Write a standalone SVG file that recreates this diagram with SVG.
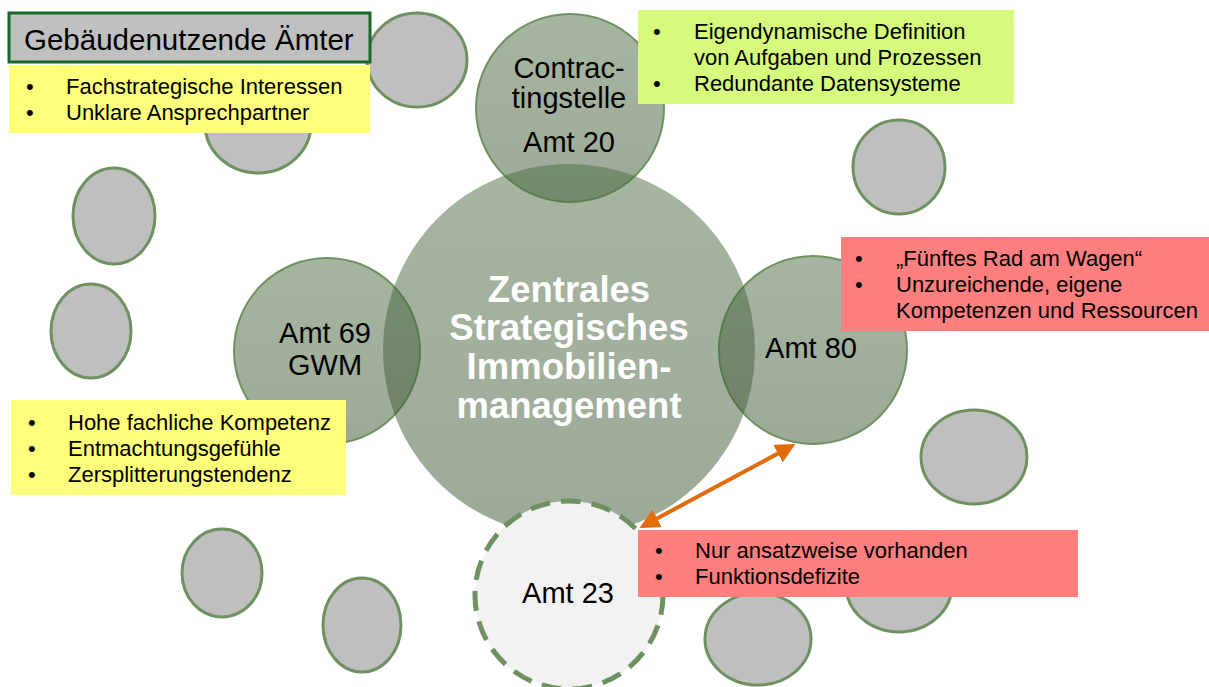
<svg xmlns="http://www.w3.org/2000/svg" width="1209" height="687" viewBox="0 0 1209 687">
  <style>
    text { font-family: "Liberation Sans", Arial, sans-serif; fill: #000; }
    .other { fill: #bfbfbf; stroke: #6f9162; stroke-width: 3; }
    .amt { fill: url(#amtFill); stroke: #6f9162; stroke-width: 2; }
    .amtLabel { font-size: 29px; text-anchor: middle; }
    .core { font-size: 36.5px; font-weight: bold; fill: #fff; text-anchor: middle; }
    .note { font-size: 22px; }
    .yellow { fill: #ffff7b; }
    .lime { fill: #d6fa7c; }
    .red { fill: #ff7f7f; }
  </style>
  <defs>
    <linearGradient id="amtFill" x1="0" y1="0" x2="0" y2="1">
      <stop offset="0" stop-color="#4d6c41" stop-opacity="0.5"/>
      <stop offset="1" stop-color="#3a5431" stop-opacity="0.5"/>
    </linearGradient>
    <marker id="head" viewBox="0 0 10 10" refX="8" refY="5" markerWidth="5" markerHeight="5" orient="auto-start-reverse">
      <path d="M0,0 L10,5 L0,10 z" fill="#e36c0a"/>
    </marker>
  </defs>

  <!-- surrounding offices (unnamed) -->
  <g id="offices">
    <ellipse class="other" cx="417" cy="60" rx="50" ry="47"/>
    <ellipse class="other" cx="258" cy="124" rx="53" ry="49"/>
    <ellipse class="other" cx="114" cy="216" rx="41" ry="48"/>
    <ellipse class="other" cx="91" cy="331" rx="40" ry="47"/>
    <ellipse class="other" cx="222" cy="573" rx="40" ry="44"/>
    <ellipse class="other" cx="362" cy="625" rx="39" ry="47"/>
    <ellipse class="other" cx="899" cy="167" rx="46" ry="47"/>
    <ellipse class="other" cx="974" cy="457" rx="53" ry="47"/>
    <ellipse class="other" cx="899" cy="585" rx="53" ry="47"/>
    <ellipse class="other" cx="758" cy="639" rx="53" ry="46"/>
  </g>

  <!-- Contractingstelle Amt 20 -->
  <g id="amt20">
    <circle class="amt" cx="570" cy="108" r="94"/>
    <text class="amtLabel" x="569" y="78">Contrac-</text>
    <text class="amtLabel" x="569" y="108">tingstelle</text>
    <text class="amtLabel" x="569" y="152">Amt 20</text>
  </g>

  <!-- Amt 69 GWM -->
  <g id="amt69">
    <circle class="amt" cx="327" cy="351" r="93"/>
    <text class="amtLabel" x="325" y="343">Amt 69</text>
    <text class="amtLabel" x="325" y="375">GWM</text>
  </g>

  <!-- Amt 80 -->
  <g id="amt80">
    <circle class="amt" cx="813" cy="350" r="94"/>
    <text class="amtLabel" x="811" y="358">Amt 80</text>
  </g>

  <!-- central strategic real estate management -->
  <g id="zsim">
    <circle cx="569" cy="350" r="186" fill="url(#amtFill)"/>
    <text class="core" x="569" y="302">Zentrales</text>
    <text class="core" x="569" y="340">Strategisches</text>
    <text class="core" x="569" y="379">Immobilien-</text>
    <text class="core" x="569" y="418">management</text>
  </g>

  <!-- Amt 23 (only partly established) -->
  <g id="amt23">
    <circle cx="569" cy="595" r="94" fill="#f2f2f2" stroke="#6f9162" stroke-width="5" stroke-dasharray="20 11"/>
    <text class="amtLabel" x="568" y="603">Amt 23</text>
  </g>

  <!-- header -->
  <g id="header">
    <rect x="9" y="13" width="361" height="49" fill="#c0c0c0" stroke="#16692a" stroke-width="3"/>
    <text x="24" y="50" font-size="29.5">Gebäudenutzende Ämter</text>
  </g>

  <!-- annotation boxes -->
  <g id="note-users">
    <rect class="yellow" x="9" y="65" width="361" height="68"/>
    <text class="note" x="26" y="94">•</text>
    <text class="note" x="66" y="94">Fachstrategische Interessen</text>
    <text class="note" x="26" y="120">•</text>
    <text class="note" x="66" y="120">Unklare Ansprechpartner</text>
  </g>

  <g id="note-amt20">
    <rect class="lime" x="638" y="10" width="376" height="94"/>
    <text class="note" x="653" y="39">•</text>
    <text class="note" x="694" y="39">Eigendynamische Definition</text>
    <text class="note" x="694" y="65">von Aufgaben und Prozessen</text>
    <text class="note" x="653" y="91">•</text>
    <text class="note" x="694" y="91">Redundante Datensysteme</text>
  </g>

  <g id="note-amt80">
    <rect class="red" x="841" y="237" width="368" height="94"/>
    <text class="note" x="855" y="266">•</text>
    <text class="note" x="896" y="266">„Fünftes Rad am Wagen“</text>
    <text class="note" x="855" y="292">•</text>
    <text class="note" x="896" y="292">Unzureichende, eigene</text>
    <text class="note" x="896" y="318">Kompetenzen und Ressourcen</text>
  </g>

  <g id="note-amt69">
    <rect class="yellow" x="11" y="400" width="335" height="95"/>
    <text class="note" x="28" y="430">•</text>
    <text class="note" x="68" y="430">Hohe fachliche Kompetenz</text>
    <text class="note" x="28" y="456">•</text>
    <text class="note" x="68" y="456">Entmachtungsgefühle</text>
    <text class="note" x="28" y="482">•</text>
    <text class="note" x="68" y="482">Zersplitterungstendenz</text>
  </g>

  <g id="note-amt23">
    <rect class="red" x="638" y="530" width="440" height="67"/>
    <text class="note" x="655" y="558">•</text>
    <text class="note" x="695" y="558">Nur ansatzweise vorhanden</text>
    <text class="note" x="655" y="584">•</text>
    <text class="note" x="695" y="584">Funktionsdefizite</text>
  </g>

  <!-- connectors -->
  <g id="connectors">
    <line x1="643" y1="526" x2="792" y2="446" stroke="#e36c0a" stroke-width="4" marker-start="url(#head)" marker-end="url(#head)"/>
  </g>
</svg>
